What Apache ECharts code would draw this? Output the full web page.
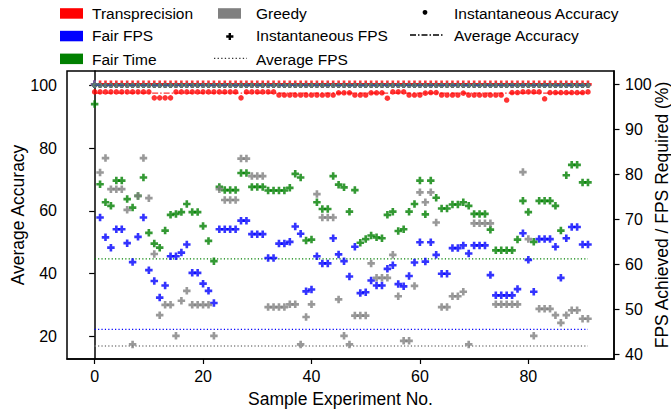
<!DOCTYPE html>
<html><head><meta charset="utf-8">
<script src="https://cdn.jsdelivr.net/npm/echarts@6/dist/echarts.min.js"></script>
<style>html,body{margin:0;padding:0;background:#fff}#c{width:671px;height:410px}</style>
</head><body><div id="c"></div>
<script>
const experiments = [0,1,2,3,4,5,6,7,8,9,10,11,12,13,14,15,16,17,18,19,20,21,22,23,24,25,26,27,28,29,30,31,32,33,34,35,36,37,38,39,40,41,42,43,44,45,46,47,48,49,50,51,52,53,54,55,56,57,58,59,60,61,62,63,64,65,66,67,68,69,70,71,72,73,74,75,76,77,78,79,80,81,82,83,84,85,86,87,88,89,90,91];
const methods = ['Transprecision','Fair FPS','Fair Time','Greedy'];
const xTicks = [0,20,40,60,80];
const accTicks = [20,40,60,80,100];
const fpsTicks = [40,50,60,70,80,90,100];

// Instantaneous FPS (FPS achieved / FPS required, %)
const fpsTransprecision = [100,100,100,100,100,100,100,100,100,100,100,100,100,100,100,100,100,100,100,100,100,100,100,100,100,100,100,100,100,100,100,100,100,100,100,100,100,100,100,100,100,100,100,100,100,100,100,100,100,100,100,100,100,100,100,100,100,100,100,100,100,100,100,100,100,100,100,100,100,100,100,100,100,100,100,100,100,100,100,100,100,100,100,100,100,100,100,100,100,100,100,100];
const fpsFairFPS = [100,70.4,66.0,63.7,67.8,67.8,64.7,60.5,66.1,70.4,58.7,56.3,52.6,55.3,61.8,61.8,62.6,64.4,58.1,58.1,55.7,54.1,51.4,67.8,67.8,67.8,67.8,69.7,69.7,66.7,66.7,66.7,61.4,61.4,64.6,64.6,65.0,68.4,66.8,54.0,54.4,61.8,60.2,60.2,65.8,62.2,60.7,57.3,63.9,53.6,53.8,56.4,55.3,55.3,59.0,59.8,55.6,55.1,57.4,60.4,64.9,60.6,64.9,62.1,57.9,57.9,63.6,63.6,64.2,62.4,64.2,64.2,64.2,57.6,53.1,53.1,53.1,53.1,54.5,66.9,61.0,53.9,65.6,65.6,65.6,63.9,57.0,65.8,68.3,68.3,64.4,64.4];
const fpsFairTime = [95.6,77.8,73.8,73.0,78.6,78.6,74.5,72.6,75.2,79.3,67.0,64.6,63.7,67.5,71.0,71.2,71.6,73.4,71.6,71.6,68.5,65.2,60.7,77.2,76.5,76.5,76.5,80.3,80.3,77.2,77.2,77.2,76.4,76.4,76.4,76.4,77.0,80.1,79.3,65.3,65.5,73.8,72.3,72.3,79.6,77.7,77.1,71.7,76.5,64.8,65.6,66.4,66.0,65.8,71.0,71.7,67.4,67.8,71.7,73.4,78.6,71.1,78.6,74.8,72.4,72.4,73.3,73.3,73.8,73.0,71.2,71.2,71.2,67.7,63.1,63.1,63.1,63.1,65.5,74.1,71.6,65.0,74.1,74.1,74.1,73.0,67.5,79.8,82.1,82.1,78.2,78.2];
const fpsGreedy = [100,80.4,83.6,76.7,76.7,76.7,72.1,42.2,75.2,83.6,74.7,62.3,48.7,51.0,51.0,44.1,51.9,54.1,51.0,51.0,51.0,51.0,44.1,76.7,74.3,74.3,74.3,83.5,83.5,79.6,79.6,79.6,50.5,50.5,50.5,50.5,51.1,51.1,42.2,48.3,51.1,75.6,70.4,70.4,70.4,52.2,44.1,42.2,48.6,48.6,48.6,60.2,57.0,57.0,57.0,62.1,52.9,43.0,43.0,55.2,76.0,73.8,76.0,69.3,50.5,50.5,52.9,52.9,53.9,42.2,69.1,69.1,69.1,69.1,51.1,51.1,51.1,51.1,51.1,80.5,65.6,44.1,50.1,50.1,50.1,48.7,47.0,48.7,49.8,49.8,47.9,47.9];

// Instantaneous accuracy
const accTransprecision = [97.9,97.9,97.9,97.9,97.9,97.9,97.9,97.9,97.9,97.9,97.9,96.0,96.0,96.0,96.0,97.9,97.9,97.9,97.9,97.9,97.9,97.9,97.9,97.9,97.9,97.9,97.9,96.0,97.9,97.9,97.9,97.9,97.9,97.9,96.9,96.9,96.9,96.9,96.9,96.9,96.9,96.9,96.9,96.9,96.9,97.6,97.6,97.6,96.9,96.9,96.9,97.6,97.6,97.6,95.9,97.9,97.9,97.9,96.9,96.9,96.9,97.5,97.7,97.7,96.9,96.9,96.9,96.9,97.5,96.9,96.9,96.9,96.9,96.9,96.9,96.9,95.3,97.7,97.7,97.9,97.9,97.9,97.9,95.7,97.7,97.7,97.7,97.7,97.7,97.7,97.7,97.9];
const accFairFPS = [100,100,100,100,100,100,100,100,100,100,100,100,100,100,100,100,100,100,100,100,100,100,100,100,100,100,100,100,100,100,100,100,100,100,100,100,100,100,100,100,100,100,100,100,100,100,100,100,100,100,100,100,100,100,100,100,100,100,100,100,100,100,100,100,100,100,100,100,100,100,100,100,100,100,100,100,100,100,100,100,100,100,100,100,100,100,100,100,100,100,100,100];
const accFairTime = [100,100,100,100,100,100,100,100,100,100,100,100,100,100,100,100,100,100,100,100,100,100,100,100,100,100,100,100,100,100,100,100,100,100,100,100,100,100,100,100,100,100,100,100,100,100,100,100,100,100,100,100,100,100,100,100,100,100,100,100,100,100,100,100,100,100,100,100,100,100,100,100,100,100,100,100,100,100,100,100,100,100,100,100,100,100,100,100,100,100,100,100];
const accGreedy = [100,100,100,100,100,100,100,100,100,100,100,100,100,100,100,100,100,100,100,100,100,100,100,100,100,100,100,100,100,100,100,100,100,100,100,100,100,100,100,100,100,100,100,100,100,100,100,100,100,100,100,100,100,100,100,100,100,100,100,100,100,100,100,100,100,100,100,100,100,100,100,100,100,100,100,100,100,100,100,100,100,100,100,100,100,100,100,100,100,100,100,100];

// Averages, one per method
const avgAccuracy = [97.5, 100, 100, 100];
const avgFPS = [100, 45.55, 61.2, 41.85];

const colors = ['#ff0000','#0000ff','#008000','#808080'];
const fpsSeries = [fpsTransprecision, fpsFairFPS, fpsFairTime, fpsGreedy];
const accSeries = [accTransprecision, accFairFPS, accFairTime, accGreedy];

const FONT = '"Liberation Sans", Arial, Helvetica, sans-serif';
const PLUS = 'path://M2.6,0H5.4V2.6H8V5.4H5.4V8H2.6V5.4H0V2.6H2.6Z';
const pts = vals => vals.map((v, i) => [experiments[i], v]);
const first = experiments[0], last = experiments[experiments.length - 1];

const series = [];
methods.forEach((m, k) => {
  series.push({
    name: m + ' FPS', type: 'scatter', yAxisIndex: 1, data: pts(fpsSeries[k]),
    symbol: PLUS, symbolSize: 7.5, itemStyle: {color: colors[k]}, z: 3 + k, silent: true
  });
});
methods.forEach((m, k) => {
  series.push({
    name: m + ' avg FPS', type: 'line', yAxisIndex: 1,
    data: [[first, avgFPS[k]], [last, avgFPS[k]]], symbol: 'none',
    lineStyle: {color: colors[k], width: 1.4, type: [1.2, 2.2]}, z: 2, silent: true
  });
});
methods.forEach((m, k) => {
  series.push({
    name: m + ' accuracy', type: 'scatter', yAxisIndex: 0, data: pts(accSeries[k]),
    symbol: 'circle', symbolSize: k === 0 ? 5.5 : 5, itemStyle: {color: colors[k]}, z: 8 + k, silent: true
  });
});
const accLineZ = [12, 15, 13, 14];
methods.forEach((m, k) => {
  series.push({
    name: m + ' avg accuracy', type: 'line', yAxisIndex: 0,
    data: [[first, avgAccuracy[k]], [last, avgAccuracy[k]]], symbol: 'none',
    lineStyle: {color: colors[k], width: 1.1, type: [6, 2, 1.5, 2], opacity: k === 1 ? 0.45 : 0.8}, z: accLineZ[k], silent: true
  });
});

function plusPts(cx, cy, h, a) {
  return [[cx-a,cy-h],[cx+a,cy-h],[cx+a,cy-a],[cx+h,cy-a],[cx+h,cy+a],[cx+a,cy+a],[cx+a,cy+h],[cx-a,cy+h],[cx-a,cy+a],[cx-h,cy+a],[cx-h,cy-a],[cx-a,cy-a]];
}
const txt = (x, y, s) => ({type: 'text', x: x, y: y, style: {text: s, x: 0, y: 0, font: '15.5px ' + FONT, fill: '#000', textVerticalAlign: 'middle', verticalAlign: 'middle'}});

const chart = echarts.init(document.getElementById('c'), null, {renderer: 'svg', width: 671, height: 410});
chart.setOption({
  animation: false,
  textStyle: {fontFamily: FONT},
  grid: {left: 67, right: 57, top: 71, height: 288, outerBoundsMode: 'none', containLabel: false, show: true, borderColor: '#000', borderWidth: 1.5, backgroundColor: 'transparent'},
  xAxis: {
    type: 'value', min: -5.1, max: 95.8,
    axisLine: {onZero: false, lineStyle: {color: '#000', width: 1.5}},
    axisTick: {customValues: xTicks, length: 5, lineStyle: {color: '#000', width: 1.2}},
    axisLabel: {customValues: xTicks, fontSize: 16, color: '#000', margin: 9},
    splitLine: {show: false},
    name: 'Sample Experiment No.', nameLocation: 'middle', nameGap: 31, nameMoveOverlap: false,
    nameTextStyle: {fontSize: 17.5, color: '#000'}
  },
  yAxis: [{
    type: 'value', min: 12.76, max: 104.56, position: 'left',
    axisLine: {show: true, lineStyle: {color: '#000', width: 1.5}},
    axisTick: {show: true, customValues: accTicks, length: 5.5, lineStyle: {color: '#000', width: 1.2}},
    axisLabel: {customValues: accTicks, fontSize: 16, color: '#000', margin: 10},
    splitLine: {show: false},
    name: 'Average Accuracy', nameLocation: 'middle', nameGap: 40, nameMoveOverlap: false,
    nameTextStyle: {fontSize: 17.5, color: '#000'}
  }, {
    type: 'value', min: 38.96, max: 102.96, position: 'right',
    axisLine: {show: true, lineStyle: {color: '#000', width: 1.5}},
    axisTick: {show: true, customValues: fpsTicks, length: 5.5, lineStyle: {color: '#000', width: 1.2}},
    axisLabel: {customValues: fpsTicks, fontSize: 16, color: '#000', margin: 11},
    splitLine: {show: false},
    name: 'FPS Achieved / FPS Required (%)', nameLocation: 'middle', nameGap: 38.5, nameMoveOverlap: false,
    nameTextStyle: {fontSize: 17.5, color: '#000'}
  }],
  graphic: [
    {type: 'rect', shape: {x: 60, y: 8.2, width: 23, height: 10.5}, style: {fill: colors[0]}},
    {type: 'rect', shape: {x: 60, y: 30.8, width: 23, height: 10.5}, style: {fill: colors[1]}},
    {type: 'rect', shape: {x: 60, y: 53.6, width: 23, height: 10.5}, style: {fill: colors[2]}},
    {type: 'rect', shape: {x: 218, y: 8.2, width: 23, height: 10.5}, style: {fill: colors[3]}},
    txt(92, 13.3, methods[0]), txt(92, 35.5, methods[1]), txt(92, 59, methods[2]), txt(256, 13.3, methods[3]),
    {type: 'circle', shape: {cx: 425, cy: 12.3, r: 2.4}, style: {fill: '#000'}},
    txt(454, 13.5, 'Instantaneous Accuracy'),
    {type: 'polygon', shape: {points: plusPts(229.8, 36.5, 3.6, 1.2)}, style: {fill: '#000'}},
    txt(256, 35.5, 'Instantaneous FPS'),
    {type: 'line', shape: {x1: 410, y1: 35, x2: 443, y2: 35}, style: {stroke: '#000', lineWidth: 1.5, lineDash: [6, 2, 1.5, 2]}},
    txt(454, 35.5, 'Average Accuracy'),
    {type: 'line', shape: {x1: 214, y1: 58.3, x2: 247, y2: 58.3}, style: {stroke: '#333', lineWidth: 1.3, lineDash: [1.3, 2.3]}},
    txt(256, 59, 'Average FPS')
  ],
  series: series
});
</script>
</body></html>
